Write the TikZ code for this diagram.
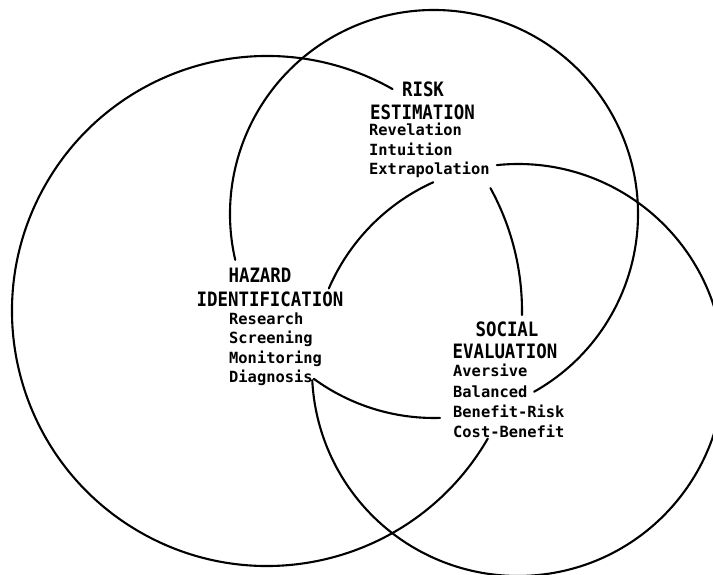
\documentclass[tikz,border=0pt]{standalone}
\usepackage{fontspec}
\newfontfamily\labelfont{DejaVu Sans Mono}
\newfontfamily\headfont{DejaVu Sans Mono}[FakeStretch=0.88]
\tikzset{
  ring/.style={line width=2.1pt, black, line cap=round},
  head/.style={font=\headfont\bfseries\fontsize{19.8}{19.8}\selectfont, inner sep=0pt, anchor=base},
  item/.style={font=\labelfont\bfseries\fontsize{15.4}{15.4}\selectfont, inner sep=0pt, anchor=base west},
}
\begin{document}
\begin{tikzpicture}[x=1pt,y=1pt]
  \useasboundingbox (0,0) rectangle (713,574);
  \fill[white] (0,0) rectangle (713,574);
  \clip (0,0) rectangle (713,574);

  % circle centres
  \coordinate (cA) at (267,263);
  \coordinate (cB) at (434,360);
  \coordinate (cC) at (518,204);

  % risk estimation
  \node[head] (risk) at (423,477) {RISK};
  \node[head] (estim) at (422.5,454) {ESTIMATION};
  \node[item] (rev) at (369,438) {Revelation};
  \node[item] (intu) at (369,418) {Intuition};
  \node[item] (extra) at (369,399) {Extrapolation};

  % hazard identification
  \node[head] (haz) at (260,291) {HAZARD};
  \node[head] (ident) at (270,267) {IDENTIFICATION};
  \node[item] (res) at (229,249) {Research};
  \node[item] (scr) at (229,230) {Screening};
  \node[item] (mon) at (229,210) {Monitoring};
  \node[item] (dia) at (229,191) {Diagnosis};

  % social evaluation
  \node[head] (soc) at (507,237) {SOCIAL};
  \node[head] (eval) at (505,215) {EVALUATION};
  \node[item] (avers) at (453,197) {Aversive};
  \node[item] (bal) at (453,177) {Balanced};
  \node[item] (benr) at (453,157) {Benefit-Risk};
  \node[item] (cost) at (453,137) {Cost-Benefit};

  % left circle, broken round the risk and social labels
  \draw[ring] (cA) ++(60.5:255) arc[start angle=60.5, end angle=330, radius=255];
  \draw[ring] (cA) ++(28.8:255) arc[start angle=28.8, end angle=-0.9, radius=255];

  % upper circle, broken round the hazard and social labels
  \draw[ring] (cB) ++(-60.6:204) arc[start angle=-60.6, end angle=193, radius=204];
  \draw[ring] (cB) ++(233.9:204) arc[start angle=233.9, end angle=271.7, radius=204];

  % lower right circle, broken round the risk and hazard labels
  \draw[ring] (cC) ++(95.9:206) arc[start angle=95.9, end angle=-177.2, radius=206];
  \draw[ring] (cC) ++(114.3:206) arc[start angle=114.3, end angle=156.7, radius=206];
\end{tikzpicture}
\end{document}
